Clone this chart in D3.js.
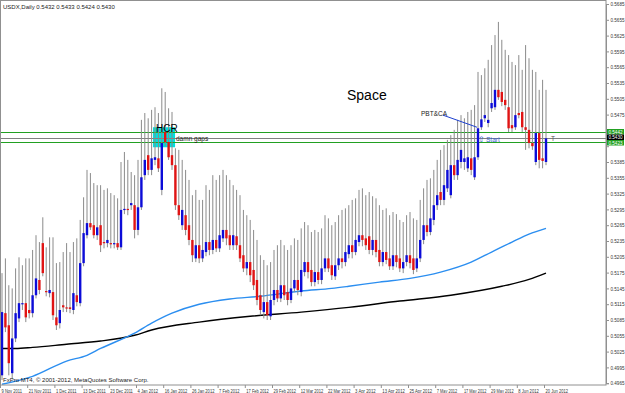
<!DOCTYPE html>
<html>
<head>
<meta charset="utf-8">
<script src="https://cdn.jsdelivr.net/npm/d3@7"></script>
<style>
  body { margin: 0; background: #fff; }
  svg text { font-family: "Liberation Sans", Arial, sans-serif; }
</style>
</head>
<body>
<div id="chart"></div>
<script>
// time axis: bar index -> label
var dateIdx = [0, 8, 16, 24, 32, 40, 48, 56, 64, 72, 80, 88, 96, 104, 112, 120, 128, 136, 144, 152, 160];
var dateLabels = ["9 Nov 2011", "21 Nov 2011", "1 Dec 2011", "13 Dec 2011", "23 Dec 2011", "4 Jan 2012",
  "16 Jan 2012", "26 Jan 2012", "7 Feb 2012", "17 Feb 2012", "29 Feb 2012", "12 Mar 2012", "22 Mar 2012",
  "3 Apr 2012", "13 Apr 2012", "25 Apr 2012", "7 May 2012", "17 May 2012", "29 May 2012", "8 Jun 2012", "20 Jun 2012"];

var priceTicks = [0.4965, 0.4995, 0.5025, 0.5055, 0.5085, 0.5115, 0.5145, 0.5175, 0.5205, 0.5235, 0.5265,
  0.5295, 0.5325, 0.5355, 0.5385, 0.5415, 0.5445, 0.5475, 0.5505, 0.5535, 0.5565, 0.5595, 0.5625, 0.5655, 0.5685];

// daily candles, 9 Nov 2011 .. 20 Jun 2012
var opens = [
  0.4980, 0.5098, 0.5075, 0.4984, 0.5050, 0.5088, 0.5115, 0.5117, 0.5104, 0.5098,
  0.5132, 0.5161, 0.5231, 0.5140, 0.5136, 0.5138, 0.5090, 0.5079, 0.5113, 0.5109,
  0.5109, 0.5104, 0.5132, 0.5117, 0.5193, 0.5246, 0.5269, 0.5265, 0.5246, 0.5265,
  0.5233, 0.5231, 0.5231, 0.5229, 0.5231, 0.5223, 0.5294, 0.5296, 0.5303, 0.5303,
  0.5256, 0.5299, 0.5360, 0.5398, 0.5370, 0.5389, 0.5392, 0.5332, 0.5442, 0.5423,
  0.5398, 0.5379, 0.5303, 0.5265, 0.5284, 0.5265, 0.5237, 0.5202, 0.5227, 0.5202,
  0.5214, 0.5233, 0.5218, 0.5237, 0.5221, 0.5240, 0.5256, 0.5246, 0.5227, 0.5244,
  0.5227, 0.5208, 0.5183, 0.5195, 0.5180, 0.5161, 0.5132, 0.5100, 0.5119, 0.5092,
  0.5123, 0.5142, 0.5126, 0.5151, 0.5138, 0.5123, 0.5145, 0.5161, 0.5138, 0.5176,
  0.5195, 0.5180, 0.5157, 0.5176, 0.5161, 0.5183, 0.5202, 0.5189, 0.5168, 0.5189,
  0.5202, 0.5195, 0.5210, 0.5227, 0.5214, 0.5233, 0.5246, 0.5240, 0.5244, 0.5218,
  0.5237, 0.5218, 0.5195, 0.5214, 0.5202, 0.5187, 0.5208, 0.5202, 0.5183, 0.5195,
  0.5208, 0.5202, 0.5183, 0.5202, 0.5237, 0.5265, 0.5252, 0.5275, 0.5303, 0.5328,
  0.5313, 0.5335, 0.5322, 0.5379, 0.5360, 0.5385, 0.5385, 0.5373, 0.5392, 0.5356,
  0.5394, 0.5451, 0.5468, 0.5459, 0.5487, 0.5489, 0.5522, 0.5518, 0.5503, 0.5489,
  0.5455, 0.5451, 0.5478, 0.5480, 0.5451, 0.5446, 0.5421, 0.5385, 0.5440, 0.5392,
  0.5385];
var highs = [
  0.5174, 0.5202, 0.5151, 0.5145, 0.5183, 0.5204, 0.5189, 0.5202, 0.5202, 0.5218,
  0.5246, 0.5233, 0.5280, 0.5223, 0.5242, 0.5242, 0.5193, 0.5195, 0.5214, 0.5231,
  0.5214, 0.5233, 0.5240, 0.5275, 0.5318, 0.5370, 0.5364, 0.5345, 0.5341, 0.5341,
  0.5332, 0.5335, 0.5326, 0.5322, 0.5316, 0.5385, 0.5404, 0.5389, 0.5366, 0.5360,
  0.5389, 0.5465, 0.5478, 0.5468, 0.5484, 0.5489, 0.5478, 0.5525, 0.5518, 0.5487,
  0.5480, 0.5411, 0.5408, 0.5389, 0.5370, 0.5351, 0.5322, 0.5332, 0.5313, 0.5313,
  0.5341, 0.5332, 0.5360, 0.5351, 0.5360, 0.5370, 0.5360, 0.5351, 0.5341, 0.5332,
  0.5322, 0.5294, 0.5284, 0.5275, 0.5256, 0.5237, 0.5208, 0.5199, 0.5189, 0.5195,
  0.5218, 0.5227, 0.5237, 0.5227, 0.5218, 0.5227, 0.5240, 0.5237, 0.5259, 0.5271,
  0.5265, 0.5252, 0.5256, 0.5252, 0.5259, 0.5284, 0.5278, 0.5265, 0.5271, 0.5284,
  0.5294, 0.5297, 0.5303, 0.5313, 0.5316, 0.5332, 0.5335, 0.5322, 0.5328, 0.5320,
  0.5316, 0.5303, 0.5294, 0.5297, 0.5284, 0.5290, 0.5286, 0.5275, 0.5271, 0.5284,
  0.5290, 0.5278, 0.5275, 0.5313, 0.5335, 0.5351, 0.5354, 0.5370, 0.5389, 0.5408,
  0.5417, 0.5427, 0.5436, 0.5446, 0.5465, 0.5474, 0.5468, 0.5480, 0.5484, 0.5493,
  0.5556, 0.5550, 0.5563, 0.5579, 0.5607, 0.5626, 0.5651, 0.5617, 0.5598, 0.5588,
  0.5575, 0.5569, 0.5588, 0.5560, 0.5607, 0.5582, 0.5560, 0.5556, 0.5522, 0.5541,
  0.5522];
var lows = [
  0.4971, 0.5062, 0.4980, 0.4974, 0.5043, 0.5081, 0.5104, 0.5081, 0.5088, 0.5090,
  0.5126, 0.5134, 0.5168, 0.5130, 0.5128, 0.5085, 0.5066, 0.5069, 0.5100, 0.5100,
  0.5098, 0.5096, 0.5111, 0.5111, 0.5187, 0.5240, 0.5256, 0.5240, 0.5237, 0.5214,
  0.5221, 0.5223, 0.5221, 0.5221, 0.5218, 0.5218, 0.5286, 0.5284, 0.5294, 0.5240,
  0.5246, 0.5294, 0.5351, 0.5360, 0.5360, 0.5379, 0.5366, 0.5322, 0.5415, 0.5389,
  0.5370, 0.5294, 0.5275, 0.5256, 0.5246, 0.5227, 0.5195, 0.5195, 0.5193, 0.5195,
  0.5206, 0.5208, 0.5210, 0.5214, 0.5214, 0.5233, 0.5227, 0.5218, 0.5218, 0.5218,
  0.5195, 0.5176, 0.5170, 0.5157, 0.5142, 0.5113, 0.5094, 0.5088, 0.5085, 0.5085,
  0.5113, 0.5119, 0.5119, 0.5123, 0.5113, 0.5117, 0.5138, 0.5132, 0.5130, 0.5168,
  0.5164, 0.5149, 0.5149, 0.5153, 0.5153, 0.5176, 0.5176, 0.5161, 0.5161, 0.5180,
  0.5183, 0.5187, 0.5202, 0.5202, 0.5208, 0.5225, 0.5225, 0.5218, 0.5210, 0.5208,
  0.5204, 0.5187, 0.5187, 0.5191, 0.5180, 0.5180, 0.5185, 0.5176, 0.5174, 0.5187,
  0.5183, 0.5172, 0.5176, 0.5195, 0.5229, 0.5244, 0.5246, 0.5265, 0.5294, 0.5303,
  0.5303, 0.5328, 0.5316, 0.5351, 0.5351, 0.5373, 0.5370, 0.5366, 0.5360, 0.5351,
  0.5389, 0.5446, 0.5461, 0.5451, 0.5480, 0.5484, 0.5503, 0.5491, 0.5484, 0.5442,
  0.5442, 0.5446, 0.5468, 0.5442, 0.5408, 0.5411, 0.5408, 0.5379, 0.5373, 0.5373,
  0.5379];
var closes = [
  0.5100, 0.5071, 0.5003, 0.5050, 0.5098, 0.5117, 0.5117, 0.5090, 0.5098, 0.5132,
  0.5164, 0.5142, 0.5174, 0.5138, 0.5142, 0.5094, 0.5075, 0.5104, 0.5109, 0.5107,
  0.5106, 0.5136, 0.5119, 0.5193, 0.5250, 0.5269, 0.5261, 0.5246, 0.5261, 0.5227,
  0.5231, 0.5237, 0.5229, 0.5231, 0.5223, 0.5294, 0.5296, 0.5294, 0.5307, 0.5256,
  0.5299, 0.5356, 0.5389, 0.5370, 0.5392, 0.5394, 0.5373, 0.5421, 0.5423, 0.5394,
  0.5379, 0.5303, 0.5284, 0.5294, 0.5256, 0.5237, 0.5208, 0.5227, 0.5202, 0.5218,
  0.5233, 0.5218, 0.5237, 0.5221, 0.5246, 0.5256, 0.5240, 0.5227, 0.5246, 0.5227,
  0.5202, 0.5183, 0.5195, 0.5170, 0.5151, 0.5123, 0.5104, 0.5119, 0.5094, 0.5123,
  0.5142, 0.5126, 0.5151, 0.5132, 0.5123, 0.5145, 0.5161, 0.5142, 0.5180, 0.5195,
  0.5176, 0.5157, 0.5176, 0.5161, 0.5183, 0.5202, 0.5183, 0.5170, 0.5189, 0.5202,
  0.5195, 0.5214, 0.5227, 0.5214, 0.5237, 0.5246, 0.5237, 0.5227, 0.5218, 0.5237,
  0.5214, 0.5195, 0.5214, 0.5199, 0.5187, 0.5208, 0.5195, 0.5183, 0.5195, 0.5208,
  0.5193, 0.5180, 0.5202, 0.5237, 0.5265, 0.5252, 0.5278, 0.5303, 0.5322, 0.5313,
  0.5341, 0.5370, 0.5379, 0.5360, 0.5389, 0.5408, 0.5392, 0.5394, 0.5370, 0.5394,
  0.5449, 0.5466, 0.5474, 0.5465, 0.5497, 0.5522, 0.5508, 0.5499, 0.5493, 0.5449,
  0.5449, 0.5474, 0.5474, 0.5451, 0.5446, 0.5421, 0.5415, 0.5440, 0.5389, 0.5387,
  0.5430];

// moving averages, read at a few bars
var maFastIdx = [0, 9, 19, 25, 29, 39, 44, 50, 58, 67, 76, 88, 97, 102, 111, 120, 129, 138, 144, 150, 155, 160];
var maFastVal = [0.4963, 0.4978, 0.5007, 0.5018, 0.5031, 0.5060, 0.5079, 0.5098, 0.5115, 0.5125, 0.5130,
  0.5140, 0.5145, 0.5149, 0.5157, 0.5164, 0.5176, 0.5195, 0.5214, 0.5233, 0.5248, 0.5259];
var maSlowIdx = [0, 4, 9, 19, 29, 39, 44, 58, 73, 88, 102, 117, 132, 147, 155, 160];
var maSlowVal = [0.5031, 0.5031, 0.5033, 0.5039, 0.5045, 0.5056, 0.5066, 0.5081, 0.5092, 0.5100, 0.5109,
  0.5121, 0.5132, 0.5149, 0.5162, 0.5174];

// horizontal levels
var greenLevels = [0.5442, 0.5423];
var bidPrice = 0.5430;

var W = 625, H = 393;
var plotRight = 606, plotBottom = 385;
var fmt = d3.format('.4f');

var svg = d3.select('#chart').append('svg')
    .attr('width', W)
    .attr('height', H)
    .style('display', 'block');

var x = d3.scaleLinear().domain([0, 160]).range([2, 546]);
var y = d3.scaleLinear().domain([0.4965, 0.5685]).range([383.2, 4]);

svg.append('defs').append('clipPath').attr('id', 'plot')
  .append('rect').attr('x', 0).attr('y', 0).attr('width', plotRight).attr('height', plotBottom);

var plot = svg.append('g').attr('clip-path', 'url(#plot)');

/*
 * objects behind the bars
 */
plot.append('rect')
    .attr('x', x(44.4))
    .attr('y', y(0.5451))
    .attr('width', x(50.9) - x(44.4))
    .attr('height', y(0.5413) - y(0.5451))
    .attr('fill', '#00e0e0');

greenLevels.forEach(function (p) {
  plot.append('line')
      .attr('x1', 0).attr('x2', plotRight)
      .attr('y1', Math.round(y(p)) + 0.5).attr('y2', Math.round(y(p)) + 0.5)
      .attr('stroke', '#22a022').attr('stroke-width', 1);
});
plot.append('line')
    .attr('x1', 0).attr('x2', plotRight)
    .attr('y1', Math.round(y(bidPrice)) + 0.5).attr('y2', Math.round(y(bidPrice)) + 0.5)
    .attr('stroke', '#808080').attr('stroke-width', 1);

/*
 * moving averages
 */
var maLine = d3.line().curve(d3.curveMonotoneX);
plot.append('path')
    .attr('d', maLine(maSlowIdx.map((d, i) => [x(d), y(maSlowVal[i])])))
    .attr('fill', 'none').attr('stroke', '#000').attr('stroke-width', 1.4);
plot.append('path')
    .attr('d', maLine(maFastIdx.map((d, i) => [x(d), y(maFastVal[i])])))
    .attr('fill', 'none').attr('stroke', '#2b8ef0').attr('stroke-width', 1.4);

/*
 * candles
 */
var bars = opens.map((o, i) => ({i: i, o: o, h: highs[i], l: lows[i], c: closes[i]}));

plot.selectAll('line.wick')
  .data(bars)
  .enter()
  .append('line')
    .attr('class', 'wick')
    .attr('x1', d => x(d.i)).attr('x2', d => x(d.i))
    .attr('y1', d => y(d.h)).attr('y2', d => y(d.l))
    .attr('stroke', '#8a8a8a').attr('stroke-width', 1);

plot.selectAll('rect.body')
  .data(bars)
  .enter()
  .append('rect')
    .attr('class', 'body')
    .attr('x', d => x(d.i) - 1.2)
    .attr('width', 2.4)
    .attr('y', d => y(Math.max(d.o, d.c)))
    .attr('height', d => Math.max(1.2, Math.abs(y(d.o) - y(d.c))))
    .attr('fill', d => d.c >= d.o ? '#0c0cd8' : '#e01414');

/*
 * texts and drawings
 */
plot.append('text').attr('x', 156).attr('y', 132).attr('font-size', 10).attr('fill', '#000').text('HCR');
plot.append('text').attr('x', 176).attr('y', 141).attr('font-size', 6.5).attr('fill', '#222').text('damn gaps');
plot.append('text').attr('x', 347).attr('y', 100).attr('font-size', 14).attr('fill', '#000').text('Space');
plot.append('text').attr('x', 421).attr('y', 116).attr('font-size', 6.5).attr('fill', '#222').text('PBT&CA');
plot.append('line')
    .attr('x1', x(129.7)).attr('y1', y(0.5474))
    .attr('x2', x(139.7)).attr('y2', y(0.5451))
    .attr('stroke', '#1c3fd0').attr('stroke-width', 1);
plot.append('text').attr('x', 478).attr('y', 142).attr('font-size', 8).attr('fill', '#3a5fd0').text('⇧');
plot.append('text').attr('x', 486).attr('y', 142).attr('font-size', 6.5).attr('fill', '#3a5fd0').text('Start');
plot.append('text').attr('x', 551).attr('y', 141).attr('font-size', 6.5).attr('fill', '#555').text('T');

svg.append('text').attr('x', 3).attr('y', 9).attr('font-size', 6).attr('fill', '#222')
   .text('USDX,Daily  0.5432 0.5433 0.5424 0.5430');
svg.append('text').attr('x', 3).attr('y', 382).attr('font-size', 6).attr('fill', '#222')
   .text('FxPro MT4, © 2001-2012, MetaQuotes Software Corp.');

/*
 * frame and axes
 */
svg.append('rect')
    .attr('x', 0.5).attr('y', 0.5)
    .attr('width', plotRight - 0.5).attr('height', plotBottom - 0.5)
    .attr('fill', 'none').attr('stroke', '#909090');

// price boxes on the axis cover the tick label that sits under them
var boxes = [
  {p: greenLevels[0], fill: '#22a022', top: 129},
  {p: bidPrice, fill: '#000', top: 134.5},
  {p: greenLevels[1], fill: '#22a022', top: 140}
];
var boxTop = 129, boxBottom = 145.5;

var yAxis = svg.append('g')
    .attr('transform', 'translate(' + plotRight + ',0)')
    .call(d3.axisRight(y).tickValues(priceTicks).tickFormat(fmt).tickSize(3).tickPadding(1.5));
yAxis.select('.domain').attr('stroke', '#909090');
yAxis.selectAll('line').attr('stroke', '#909090');
yAxis.selectAll('text')
    .attr('font-size', 5).attr('fill', '#333')
    .attr('textLength', 14).attr('lengthAdjust', 'spacingAndGlyphs')
    .style('display', d => (y(d) > boxTop - 2 && y(d) < boxBottom + 1) ? 'none' : null);

var xAxis = svg.append('g')
    .attr('transform', 'translate(0,' + plotBottom + ')')
    .call(d3.axisBottom(x).tickValues(dateIdx).tickFormat((d, i) => dateLabels[i]).tickSize(3).tickPadding(1));
xAxis.select('.domain').remove();
xAxis.selectAll('.tick line').attr('stroke', '#909090').attr('transform', 'translate(-2,0)');
xAxis.selectAll('text')
    .attr('font-size', 5).attr('fill', '#333')
    .attr('text-anchor', 'start')
    .attr('dx', -1)
    .attr('textLength', (d, i) => dateLabels[i].length * 2.05)
    .attr('lengthAdjust', 'spacingAndGlyphs');

boxes.forEach(function (b) {
  svg.append('rect')
      .attr('x', plotRight + 1).attr('y', b.top)
      .attr('width', 17).attr('height', 5.5)
      .attr('fill', b.fill);
  svg.append('text')
      .attr('x', plotRight + 2.5).attr('y', b.top + 4.5)
      .attr('font-size', 4.8).attr('fill', '#fff')
      .attr('textLength', 14).attr('lengthAdjust', 'spacingAndGlyphs')
      .text(fmt(b.p));
});
</script>
</body>
</html>
